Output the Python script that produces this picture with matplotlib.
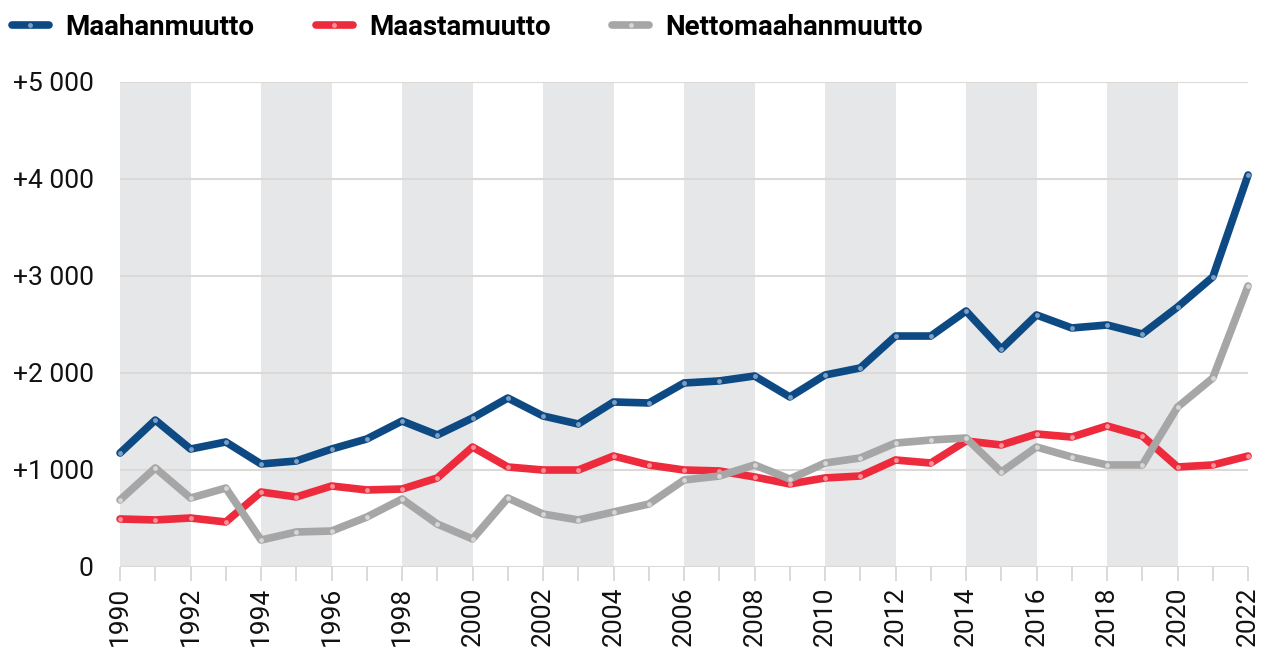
import matplotlib
matplotlib.use("Agg")
import matplotlib.pyplot as plt
from matplotlib.ticker import FuncFormatter, MultipleLocator

years = list(range(1990, 2023))

maahanmuutto = [1175, 1515, 1216, 1289, 1062, 1093, 1216, 1320, 1505, 1361,
                1536, 1742, 1557, 1474, 1701, 1691, 1897, 1918, 1969, 1753,
                1979, 2052, 2381, 2381, 2639, 2247, 2598, 2464, 2495, 2402,
                2680, 2990, 4041]
maastamuutto = [495, 485, 505, 464, 773, 722, 835, 794, 804, 918,
                1237, 1031, 1000, 1000, 1144, 1052, 1000, 990, 928, 856,
                918, 938, 1103, 1072, 1299, 1258, 1371, 1340, 1454, 1351,
                1031, 1052, 1144]
netto = [691, 1021, 711, 814, 278, 361, 371, 515, 701, 443,
         289, 711, 546, 485, 567, 649, 897, 938, 1052, 907,
         1072, 1124, 1278, 1309, 1330, 979, 1237, 1134, 1052, 1052,
         1649, 1948, 2897]

series = [
    ("Maahanmuutto", maahanmuutto, "#0d4a84", "#7f9fc2"),
    ("Maastamuutto", maastamuutto, "#ee2a3d", "#f7929b"),
    ("Nettomaahanmuutto", netto, "#a6a6a6", "#d6d6d6"),
]

band_starts = [1990, 1994, 1998, 2002, 2006, 2010, 2014, 2018]

plt.rcParams["font.family"] = ["Roboto", "DejaVu Sans"]

fig = plt.figure(figsize=(12.65, 6.48), dpi=100)
fig.patch.set_facecolor("white")
ax = fig.add_axes([0.0949, 0.125, 0.8917, 0.7485])

for s in band_starts:
    ax.axvspan(s, s + 2, color="#e6e7e9", lw=0, zorder=0)

for label, vals, col, mcol in series:
    ax.plot(years, vals, color=col, lw=5.5, solid_capstyle="round",
            solid_joinstyle="round", marker="o", markersize=3.5,
            markerfacecolor=mcol, markeredgewidth=0, label=label,
            zorder=3, clip_on=False)

ax.set_xlim(1990, 2022)
ax.set_ylim(0, 5000)
ax.yaxis.set_major_locator(MultipleLocator(1000))
ax.yaxis.set_major_formatter(FuncFormatter(
    lambda v, p: "0" if v == 0 else "+" + f"{int(v):,}".replace(",", " ")))
ax.set_xticks(years)
ax.set_xticklabels([str(y) if (y - 1990) % 2 == 0 else "" for y in years],
                   rotation=90)

ax.grid(axis="y", color="#dcd9d6", lw=1.5, zorder=1)
ax.set_axisbelow(True)
for sp in ax.spines.values():
    sp.set_visible(False)
ax.tick_params(axis="y", length=0, labelsize=19, pad=19, colors="#111111")
ax.tick_params(axis="x", length=10, width=1.2, color="#d3d3d3",
               labelsize=19, pad=4, labelcolor="#111111")

leg = fig.legend(loc="upper left", bbox_to_anchor=(0.0095, 0.979), ncol=3,
                 frameon=False, borderpad=0, borderaxespad=0,
                 handlelength=1.33, handletextpad=0.6, columnspacing=2.2,
                 prop={"family": ["Roboto", "DejaVu Sans"],
                       "weight": "bold", "size": 20})

fig.savefig("out.png", dpi=100, facecolor="white")
